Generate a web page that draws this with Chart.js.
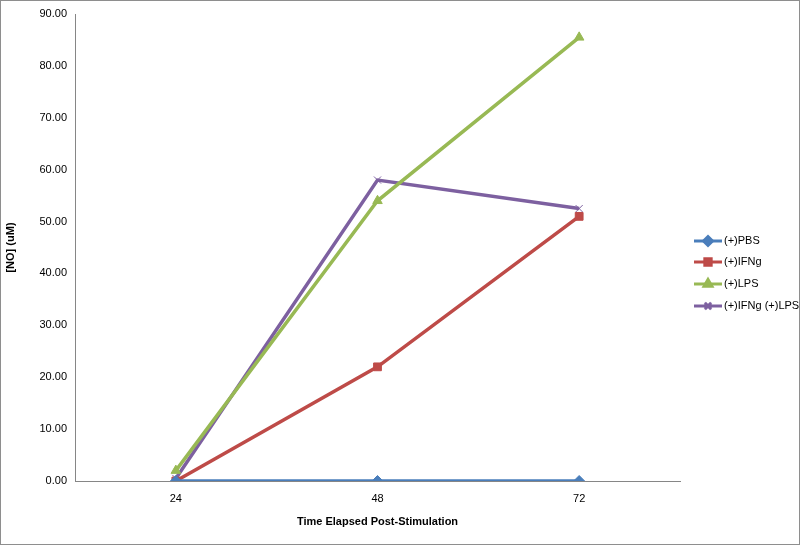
<!DOCTYPE html>
<html><head><meta charset="utf-8">
<script src="https://cdn.jsdelivr.net/npm/chart.js@4"></script>
<style>html,body{margin:0;padding:0;background:#fff}#w{width:800px;height:545px}</style>
</head><body><div id="w"><canvas id="c"></canvas></div>
<script>
const categories = ["24","48","72"];
const pbs = [0, 0, 0];
const ifng = [0, 22, 51];
const lps = [2, 54, 85.5];
const ifngLps = [0.5, 58, 52.5];
const seriesNames = ["(+)PBS","(+)IFNg","(+)LPS","(+)IFNg (+)LPS"];
const colors = ["#4a7ebb","#be4b48","#98b954","#7d60a0"];
const styles = ["rectRot","rect","triangle","crossRot"];
const font = "'Liberation Sans', Arial, sans-serif";
Chart.defaults.font.family = font;
Chart.defaults.color = "#000";

const legendPlugin = {
  id:'customLegend',
  afterDraw(chart){
    const ctx = chart.ctx;
    ctx.save();
    ctx.strokeStyle = "#8e8e8e"; ctx.lineWidth = 1;
    ctx.strokeRect(0.5,0.5,chart.width-1,chart.height-1);
    const ys = [241, 262, 284, 306];
    chart.data.datasets.forEach((ds,i)=>{
      const y = ys[i], x0 = 694, x1 = 722;
      ctx.strokeStyle = ds.borderColor; ctx.lineWidth = 3;
      ctx.beginPath(); ctx.moveTo(x0,y); ctx.lineTo(x1,y); ctx.stroke();
      Chart.helpers.drawPoint(ctx,{pointStyle:ds.pointStyle,radius:4.5,borderWidth:1}, (x0+x1)/2, y);
      ctx.fillStyle = ds.borderColor;
      ctx.strokeStyle = ds.borderColor;
      ctx.lineWidth = 1;
      Chart.helpers.drawPoint(ctx,{pointStyle:ds.pointStyle,radius:4.5,borderWidth:1}, (x0+x1)/2, y);
      ctx.fill();
      ctx.fillStyle = "#000"; ctx.font = "11px "+font; ctx.textBaseline="middle";
      ctx.fillText(ds.label, x1+2, y);
    });
    ctx.restore();
  }
};

new Chart(document.getElementById('c'), {
  type:'line',
  data:{ labels:categories, datasets:[pbs,ifng,lps,ifngLps].map((d,i)=>({
    label:seriesNames[i], data:d, borderColor:colors[i], backgroundColor:colors[i],
    borderWidth:3.5, pointStyle:styles[i], pointRadius:i===3?5:5.5, pointBorderWidth:1,
    pointBorderColor:i===3?colors[i]:colors[i], tension:0 }))},
  options:{
    responsive:true, maintainAspectRatio:false, animation:false,
    layout:{padding:{top:14,left:0,right:120,bottom:12}},
    plugins:{legend:{display:false}, tooltip:{enabled:false}},
    scales:{
      x:{ offset:true, grid:{display:false, drawTicks:true, tickLength:5, color:"#868686"},
          border:{color:"#868686"},
          ticks:{font:{size:11}, padding:6},
          title:{display:true, text:"Time Elapsed Post-Stimulation", font:{size:11,weight:'bold'}, padding:{top:14}},
          afterFit(s){ s.height = 52; } },
      y:{ min:0, max:90, grid:{display:false, drawTicks:true, tickLength:5},
          border:{color:"#868686"},
          ticks:{stepSize:10, font:{size:11}, callback:v=>v.toFixed(2)},
          title:{display:true, text:"[NO] (uM)", font:{size:11,weight:'bold'}},
          afterFit(s){ s.width = 75; } }
    }
  },
  plugins:[legendPlugin]
});
</script></body></html>
